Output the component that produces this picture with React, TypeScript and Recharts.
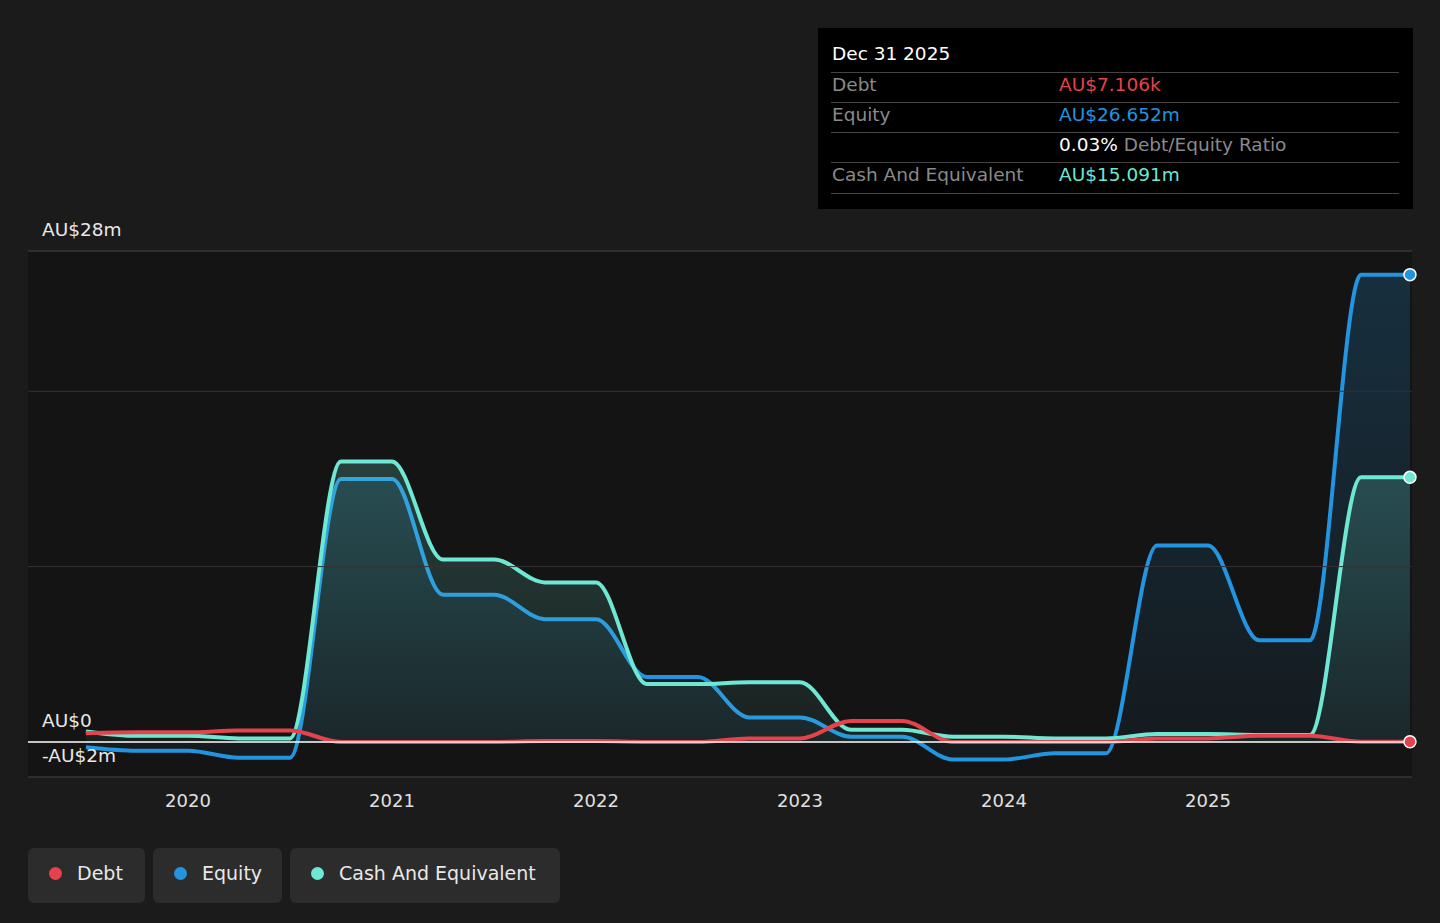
import { ComposedChart, Area, Line, XAxis, YAxis, ReferenceLine, ReferenceArea } from "recharts";

const periods = [2019.5, 2019.75, 2020, 2020.25, 2020.5, 2020.75, 2021, 2021.25, 2021.5, 2021.75, 2022, 2022.25, 2022.5, 2022.75, 2023, 2023.25, 2023.5, 2023.75, 2024, 2024.25, 2024.5, 2024.75, 2025, 2025.25, 2025.5, 2025.75, 2025.99];
const debt = [0.5, 0.55, 0.55, 0.65, 0.65, 0, 0, 0, 0, 0.05, 0.05, 0, 0, 0.2, 0.2, 1.2, 1.2, 0, 0, 0, 0, 0.2, 0.2, 0.35, 0.35, 0.007, 0.007];
const equity = [-0.3, -0.5, -0.5, -0.9, -0.9, 15, 15, 8.4, 8.4, 7.0, 7.0, 3.7, 3.7, 1.4, 1.4, 0.3, 0.3, -1.0, -1.0, -0.65, -0.65, 11.2, 11.2, 5.8, 5.8, 26.652, 26.652];
const cash = [0.6, 0.35, 0.35, 0.2, 0.2, 16, 16, 10.4, 10.4, 9.1, 9.1, 3.3, 3.3, 3.4, 3.4, 0.7, 0.7, 0.3, 0.3, 0.2, 0.2, 0.45, 0.45, 0.4, 0.4, 15.091, 15.091];
const yearTicks = [2020, 2021, 2022, 2023, 2024, 2025];

const data = periods.map((t, i) => ({ t, debt: debt[i], equity: equity[i], cash: cash[i] }));
const last = periods.length - 1;

const endDot = (color: string) => (p: any) =>
  p.index === last ? <circle key={p.index} cx={p.cx} cy={p.cy} r={6} fill={color} stroke="#fff" strokeWidth={1.5} /> : <g key={p.index} />;

const font = "'DejaVu Sans', sans-serif";

const legendItems = [
  { name: "Debt", color: "#e5424b", w: 117 },
  { name: "Equity", color: "#2394df", w: 129 },
  { name: "Cash And Equivalent", color: "#6ee7d3", w: 270 },
];

export default function App() {
  return (
    <div style={{ position: "absolute", left: 0, top: 0, width: 1440, height: 923, background: "#1b1b1b", fontFamily: font, overflow: "hidden" }}>
      <ComposedChart width={1440} height={923} data={data} margin={{ top: 251, right: 28, bottom: 116, left: 28 }}>
        <defs>
          <linearGradient id="eqG" x1="0" y1="0" x2="0" y2="1">
            <stop offset="0%" stopColor="#2394df" stopOpacity={0.35} />
            <stop offset="100%" stopColor="#2394df" stopOpacity={0.08} />
          </linearGradient>
          <linearGradient id="cashG" x1="0" y1="0" x2="0" y2="1">
            <stop offset="0%" stopColor="#6ee7d3" stopOpacity={0.35} />
            <stop offset="100%" stopColor="#6ee7d3" stopOpacity={0.1} />
          </linearGradient>
        </defs>
        <XAxis dataKey="t" type="number" domain={[2019.216, 2026]} ticks={yearTicks} axisLine={false} tickLine={false} tick={{ fill: "#e0e0e0", fontSize: 18, fontFamily: font }} height={30} tickMargin={11} />
        <YAxis hide domain={[-2, 28]} />
        <ReferenceArea x1={2019.216} x2={2026} y1={-2} y2={28} fill="#141414" fillOpacity={1} stroke="none" />
        <ReferenceLine y={28} stroke="#444" />
        <ReferenceLine y={20} stroke="#333" />
        <ReferenceLine y={10} stroke="#333" />
        <ReferenceLine y={-2} stroke="#444" />
        <Area type="monotone" dataKey="equity" stroke="#2394df" strokeWidth={4} fill="url(#eqG)" isAnimationActive={false} dot={endDot("#2394df")} />
        <Area type="monotone" dataKey="cash" stroke="#6ee7d3" strokeWidth={4} fill="url(#cashG)" isAnimationActive={false} dot={endDot("#6ee7d3")} />
        <Line type="monotone" dataKey="debt" stroke="#e5424b" strokeWidth={4} isAnimationActive={false} dot={endDot("#e5424b")} />
        <ReferenceLine y={0} stroke="#ffffff" strokeWidth={1.5} />
      </ComposedChart>

      <div style={{ position: "absolute", left: 42, top: 219, color: "#e8e8e8", fontSize: 18.5 }}>AU$28m</div>
      <div style={{ position: "absolute", left: 42, top: 710, color: "#e8e8e8", fontSize: 18.5 }}>AU$0</div>
      <div style={{ position: "absolute", left: 42, top: 745, color: "#e8e8e8", fontSize: 18.5 }}>-AU$2m</div>

      <div style={{ position: "absolute", left: 818, top: 28, width: 595, height: 181, background: "#000", fontSize: 18.5, color: "#8a8a8a" }}>
        <div style={{ position: "absolute", left: 14, top: 15, color: "#fff" }}>Dec 31 2025</div>
        {[
          { y: 44, label: "Debt", val: "AU$7.106k", c: "#e5424b" },
          { y: 74, label: "Equity", val: "AU$26.652m", c: "#2394df" },
          { y: 134, label: "Cash And Equivalent", val: "AU$15.091m", c: "#6ee7d3" },
        ].map((r) => (
          <div key={r.label}>
            <div style={{ position: "absolute", left: 13, top: r.y, width: 568, borderTop: "1px solid #444" }} />
            <div style={{ position: "absolute", left: 14, top: r.y + 2 }}>{r.label}</div>
            <div style={{ position: "absolute", left: 241, top: r.y + 2, color: r.c }}>{r.val}</div>
          </div>
        ))}
        <div style={{ position: "absolute", left: 13, top: 104, width: 568, borderTop: "1px solid #444" }} />
        <div style={{ position: "absolute", left: 241, top: 106 }}><span style={{ color: "#fff" }}>0.03%</span> Debt/Equity Ratio</div>
        <div style={{ position: "absolute", left: 13, top: 165, width: 568, borderTop: "1px solid #444" }} />
      </div>

      <div style={{ position: "absolute", left: 28, top: 848, display: "flex", gap: 8 }}>
        {legendItems.map((l) => (
          <div key={l.name} style={{ width: l.w, height: 55, background: "#2c2c2c", borderRadius: 6, display: "flex", alignItems: "center", color: "#e8e8e8", fontSize: 19, boxSizing: "border-box", paddingLeft: 21, paddingBottom: 5 }}>
            <span style={{ width: 13, height: 13, borderRadius: 7, background: l.color, marginRight: 15 }} />
            {l.name}
          </div>
        ))}
      </div>
    </div>
  );
}
